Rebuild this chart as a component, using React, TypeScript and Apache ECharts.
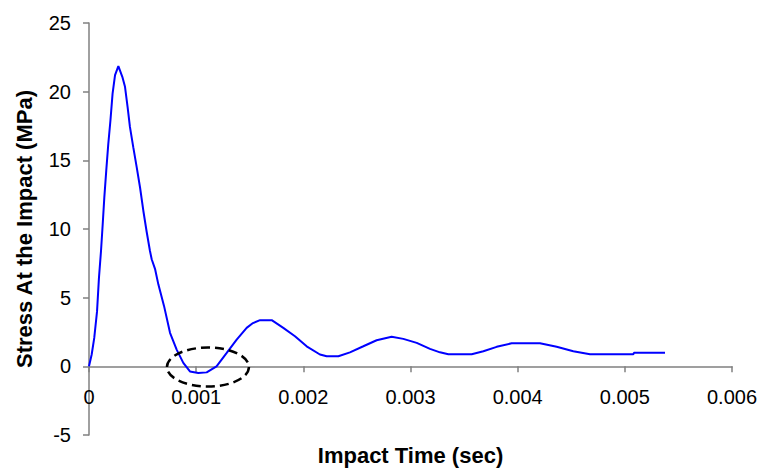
import React, { useEffect, useRef } from "react";
import * as echarts from "echarts";

// Impact time in milliseconds (converted to seconds below)
const TIME_MS = [
  0, 0.025, 0.049, 0.075, 0.093, 0.112, 0.128, 0.143, 0.161, 0.18, 0.2, 0.22,
  0.243, 0.274, 0.311, 0.336, 0.36, 0.382, 0.413, 0.445, 0.476, 0.507, 0.538,
  0.569, 0.585, 0.616, 0.647, 0.7, 0.756, 0.818, 0.88, 0.942, 1.02, 1.098,
  1.19, 1.285, 1.378, 1.471, 1.53, 1.596, 1.705, 1.813, 1.922, 2.031, 2.155,
  2.218, 2.327, 2.435, 2.56, 2.684, 2.824, 2.933, 3.058, 3.182, 3.275, 3.353,
  3.571, 3.68, 3.804, 3.944, 4.208, 4.364, 4.519, 4.675, 5.079, 5.085, 5.375,
];
// Stress at the impact (MPa)
const STRESS = [
  0, 0.86, 2.07, 4.0, 6.46, 8.4, 10.36, 12.3, 14.25, 16.2, 17.9, 19.86,
  21.2, 21.86, 21.08, 20.35, 18.9, 17.43, 15.96, 14.5, 13.04, 11.33, 9.8,
  8.4, 7.8, 7.1, 5.97, 4.4, 2.44, 1.22, 0.25, -0.37, -0.48, -0.44,
  0, 0.98, 1.95, 2.8, 3.15, 3.36, 3.36, 2.8, 2.19, 1.46, 0.86,
  0.73, 0.73, 1.02, 1.46, 1.9, 2.15, 2.0, 1.71, 1.27, 1.02, 0.88,
  0.88, 1.1, 1.42, 1.68, 1.68, 1.42, 1.1, 0.88, 0.88, 0.98, 0.98,
];
const X_TICKS = [0, 0.001, 0.002, 0.003, 0.004, 0.005, 0.006];
const Y_TICKS = [-5, 0, 5, 10, 15, 20, 25];
// Annotation ellipse around the negative dip (data coordinates)
const ELLIPSE_CENTER = [0.00111, -0.05];

const FONT = "Arial, 'Liberation Sans', sans-serif";

export default function App() {
  const ref = useRef<HTMLDivElement>(null);
  useEffect(() => {
    if (!ref.current) return;
    const chart = echarts.init(ref.current, undefined, { renderer: "svg" });
    const data = TIME_MS.map((t, i) => [t / 1000, STRESS[i]]);
    chart.setOption({
      animation: false,
      backgroundColor: "#ffffff",
      grid: {
        left: 89,
        right: 33,
        top: 23,
        bottom: 39,
        containLabel: false,
        outerBoundsMode: "none",
      },
      xAxis: {
        type: "value",
        min: X_TICKS[0],
        max: X_TICKS[X_TICKS.length - 1],
        interval: 0.001,
        name: "Impact Time (sec)",
        nameLocation: "middle",
        nameGap: 9,
        nameTextStyle: { fontFamily: FONT, fontSize: 22, fontWeight: "bold", color: "#000" },
        axisLine: { onZero: true, lineStyle: { color: "#808080", width: 1.5 } },
        axisTick: { show: true, length: 6, inside: false, lineStyle: { color: "#808080", width: 1.5 } },
        axisLabel: {
          margin: -48,
          fontFamily: FONT,
          fontSize: 20,
          color: "#000",
          formatter: (v: number) => (v === 0 ? "0" : v.toFixed(3)),
        },
        splitLine: { show: false },
      },
      yAxis: {
        type: "value",
        min: Y_TICKS[0],
        max: Y_TICKS[Y_TICKS.length - 1],
        interval: 5,
        name: "Stress At the Impact (MPa)",
        nameLocation: "middle",
        nameRotate: 90,
        nameGap: 54,
        nameTextStyle: { fontFamily: FONT, fontSize: 22, fontWeight: "bold", color: "#000" },
        axisLine: { show: true, onZero: false, lineStyle: { color: "#808080", width: 1.5 } },
        axisTick: { show: true, length: 6, lineStyle: { color: "#808080", width: 1.5 } },
        axisLabel: { margin: 18, fontFamily: FONT, fontSize: 20, color: "#000" },
        splitLine: { show: false },
      },
      series: [
        {
          type: "line",
          data,
          showSymbol: false,
          symbol: "none",
          lineStyle: { color: "#0000ff", width: 2 },
          z: 3,
        },
      ],
    });
    const c = chart.convertToPixel({ gridIndex: 0 }, ELLIPSE_CENTER) as number[];
    chart.setOption({
      graphic: [
        {
          type: "ellipse",
          shape: { cx: c[0], cy: c[1], rx: 41, ry: 19.5 },
          style: { fill: "none", stroke: "#000", lineWidth: 2.5, lineDash: [9, 5] },
          z: 10,
        },
      ],
    });
    return () => chart.dispose();
  }, []);
  return (
    <div
      ref={ref}
      style={{ position: "fixed", left: 0, top: 0, width: 765, height: 474, background: "#fff" }}
    />
  );
}
